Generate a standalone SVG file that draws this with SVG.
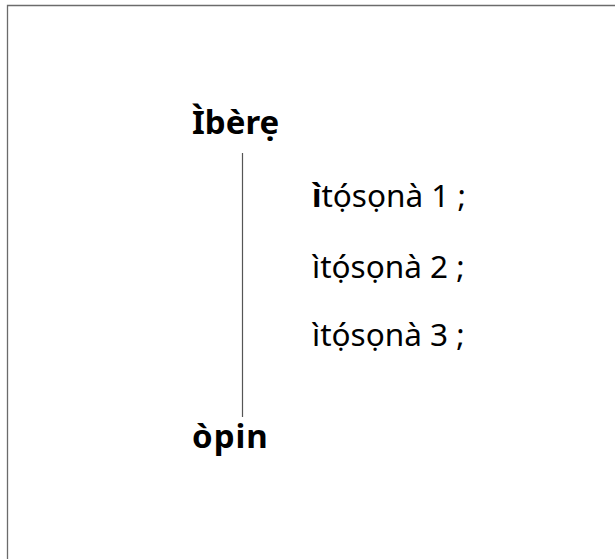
<svg xmlns="http://www.w3.org/2000/svg" width="615" height="559" viewBox="0 0 615 559">
<style>
.t{font-family:"Noto Sans","Liberation Sans",sans-serif;fill:#000}
.b{font-weight:bold;font-size:33px}
.r{font-size:31.5px}
.frame{stroke:#6b6b6b;stroke-width:1.3;fill:none}
</style>
<rect width="615" height="559" fill="#fff"/>
<path class="frame" d="M7.5,559 V5.5 H615"/>
<g id="connectors"><line x1="242.5" y1="153" x2="242.5" y2="417" stroke="#555" stroke-width="1.2"/></g>
<g id="start"><text class="t b" x="192" y="134">Ìbèrẹ</text></g>
<g id="end"><text class="t b" x="192" y="448" letter-spacing="1">òpin</text></g>
<g id="step1"><text class="t r" x="312" y="207"><tspan font-weight="bold">ì</tspan>tọ́sọnà 1 ;</text></g>
<g id="step2"><text class="t r" x="312" y="278">ìtọ́sọnà 2 ;</text></g>
<g id="step3"><text class="t r" x="312" y="346">ìtọ́sọnà 3 ;</text></g>
</svg>
